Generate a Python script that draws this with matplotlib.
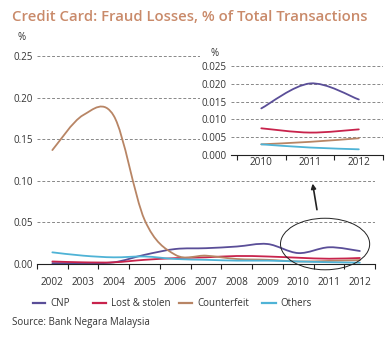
import matplotlib
matplotlib.use('Agg')
import matplotlib.pyplot as plt
import numpy as np
from matplotlib.path import Path
from matplotlib.patches import PathPatch, Ellipse, Rectangle
from matplotlib.lines import Line2D

plt.rcParams['font.family'] = ['Open Sans', 'DejaVu Sans']

years = [2002, 2003, 2004, 2005, 2006, 2007, 2008, 2009, 2010, 2011, 2012]
cnp = [0.001, 0.001, 0.002, 0.011, 0.018, 0.019, 0.021, 0.024, 0.0131, 0.0201, 0.0156]
lost_stolen = [0.003, 0.002, 0.002, 0.005, 0.007, 0.008, 0.0096, 0.009, 0.0075, 0.0063, 0.0072]
counterfeit = [0.137, 0.179, 0.178, 0.053, 0.011, 0.010, 0.006, 0.005, 0.003, 0.0037, 0.0047]
others = [0.014, 0.010, 0.008, 0.009, 0.006, 0.005, 0.004, 0.004, 0.003, 0.0021, 0.0016]

series = [('CNP', cnp, '#5a4e98'),
          ('Lost & stolen', lost_stolen, '#c8234c'),
          ('Counterfeit', counterfeit, '#b88565'),
          ('Others', others, '#4fb3d6')]

inset_years = years[-3:]

grey = '#333333'

def smooth_path(x, y):
	# catmull-rom style bezier segments through the points
	x = np.asarray(x, float)
	y = np.asarray(y, float)
	pts = np.column_stack([x, y])
	verts = [pts[0]]
	codes = [Path.MOVETO]
	n = len(pts)
	for i in range(n - 1):
		p0 = pts[i - 1] if i > 0 else pts[i]
		p1 = pts[i]
		p2 = pts[i + 1]
		p3 = pts[i + 2] if i + 2 < n else pts[i + 1]
		c1 = p1 + (p2 - p0) / 6.0
		c2 = p2 - (p3 - p1) / 6.0
		verts += [c1, c2, p2]
		codes += [Path.CURVE4] * 3
	return Path(verts, codes)

def draw_lines(ax, xs, data_slice):
	for name, vals, col in series:
		pp = PathPatch(smooth_path(xs, vals[data_slice]), facecolor='none',
			edgecolor=col, lw=1.3, capstyle='round')
		ax.add_patch(pp)

def style_axis(ax, yticks, fmt, xs, xlim, xpad):
	ax.set_xlim(*xlim)
	ax.set_ylim(yticks[0], yticks[-1])
	ax.set_yticks(yticks)
	ax.set_yticklabels([fmt % t for t in yticks], color=grey, fontsize=7)
	ax.set_xticks(xs)
	ax.set_xticklabels([str(v) for v in xs], color=grey, fontsize=7.2)
	ax.set_xticks(np.arange(xs[0] - 0.5, xs[-1] + 0.6, 1.0), minor=True)
	ax.tick_params(axis='x', which='major', length=0, pad=xpad)
	ax.tick_params(axis='x', which='minor', length=3.5, direction='out', color='#222222', width=0.8)
	ax.tick_params(axis='y', length=0, pad=3)
	for s in ['left', 'right', 'top']:
		ax.spines[s].set_visible(False)
	ax.spines['bottom'].set_color('#222222')
	ax.spines['bottom'].set_linewidth(0.8)
	ax.grid(axis='y', linestyle=(0, (3, 2)), color='#888888', lw=0.7)
	ax.set_axisbelow(True)

fig = plt.figure(figsize=(3.91, 3.38), dpi=100)

# main chart
ax = fig.add_axes([0.0946, 0.219, 0.865, 0.615])
style_axis(ax, [0, 0.05, 0.10, 0.15, 0.20, 0.25], '%.2f', years, (2001.5, 2012.45), 9.5)
draw_lines(ax, years, slice(None))

ell = Ellipse((2010.87, 0.024), 2.9, 0.062, fill=False, edgecolor='#222222', lw=0.7, clip_on=False)
ax.add_patch(ell)
ax.annotate('', xy=(2010.45, 0.1), xytext=(2010.62, 0.062),
	arrowprops=dict(arrowstyle='-|>', color='#222222', lw=1.2, mutation_scale=7))

# white box behind the zoomed-in chart
fig.patches.append(Rectangle((200 / 391, 1 - 176 / 338), 191 / 391, 136 / 338,
	transform=fig.transFigure, facecolor='white', edgecolor='none', zorder=0.5))

# zoomed chart 2010-2012
axi = fig.add_axes([0.591, 0.5414, 0.389, 0.2633], zorder=1)
axi.patch.set_alpha(0)
style_axis(axi, [0, 0.005, 0.010, 0.015, 0.020, 0.025], '%.3f', inset_years, (2009.38, 2012.35), 1.5)
draw_lines(axi, inset_years, slice(-3, None))

fig.text(12 / 391, 1 - 17 / 338, 'Credit Card: Fraud Losses, % of Total Transactions',
	color='#c98a6a', fontsize=10.7, fontweight='semibold', va='center', ha='left')
fig.text(22 / 391, 1 - 38 / 338, '%', color=grey, fontsize=7, va='center', ha='center')
fig.text(215 / 391, 1 - 53 / 338, '%', color=grey, fontsize=7, va='center', ha='center')

# legend drawn item by item
leg_y = 1 - 303 / 338
leg_lines = [(33, 45), (93, 106), (179, 192), (262, 276)]
leg_text_x = [50, 111, 197, 280]
for (name, vals, col), (x0, x1), tx in zip(series, leg_lines, leg_text_x):
	fig.add_artist(Line2D([x0 / 391, x1 / 391], [leg_y, leg_y], color=col, lw=1.6,
		transform=fig.transFigure))
	fig.text(tx / 391, leg_y, name, color=grey, fontsize=7, va='center', ha='left')

fig.text(12 / 391, 1 - 323 / 338, 'Source: Bank Negara Malaysia', color=grey, fontsize=7,
	va='center', ha='left')

fig.savefig('out.png', dpi=100)
